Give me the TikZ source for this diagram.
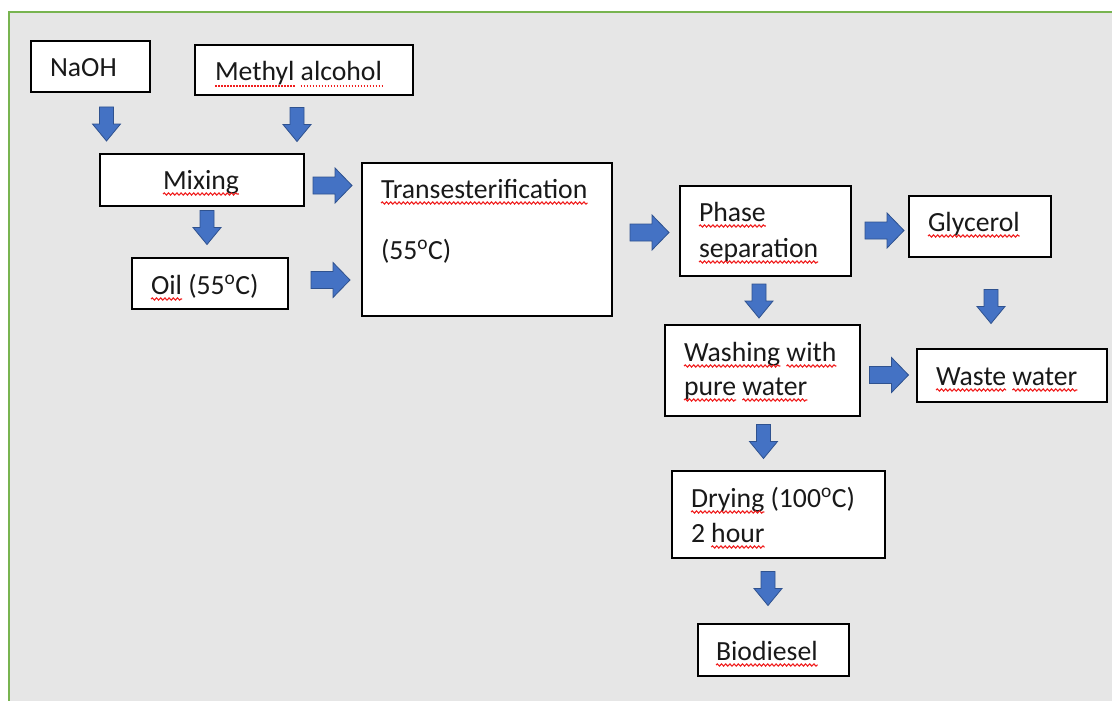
\documentclass[tikz,border=0pt]{standalone}
\usepackage{fontspec}
\setmainfont{Carlito}
\usetikzlibrary{fit,decorations.pathmorphing}
\definecolor{bggray}{RGB}{230,230,230}
\definecolor{frgreen}{RGB}{120,180,80}
\definecolor{abl}{RGB}{68,114,196}
\definecolor{abe}{RGB}{47,82,143}
\definecolor{spell}{RGB}{240,30,30}
\newcommand\wv[1]{\draw[wavy] ([yshift=-5pt]#1.base west) -- ([yshift=-5pt]#1.base east);}
\newcommand\dt[1]{\draw[dots] ([yshift=-5pt]#1.base west) -- ([yshift=-5pt]#1.base east);}
\begin{document}
\begin{tikzpicture}[x=1pt,y=-1pt,
 box/.style={draw=black, fill=white, line width=1.3pt, inner sep=0pt},
 txt/.style={anchor=base west, inner sep=0pt, outer sep=0pt, font=\fontsize{27.7}{33}\selectfont, text=black!90},
 wavy/.style={draw=spell, line width=1.1pt, decorate, decoration={snake, amplitude=1.1pt, segment length=4.2pt}},
 dots/.style={draw=spell, line width=1.1pt, dash pattern=on 1.5pt off 1.5pt},
 blk/.style={fill=abl, draw=abe, line width=0.8pt, line join=miter},
 pics/rarr/.style={code={\draw[blk] (-19.5,-8.5)--(2.5,-8.5)--(2.5,-17.5)--(19.5,0)--(2.5,17.5)--(2.5,8.5)--(-19.5,8.5)--cycle;}},
 pics/darr/.style={code={\draw[blk] (-7,-17)--(7,-17)--(7,0)--(14,0)--(0,17)--(-14,0)--(-7,0)--cycle;}}]
\useasboundingbox (0,0) rectangle (1112,701);
\fill[white] (0,0) rectangle (1112,701);
\fill[bggray] (9,13) rectangle (1112,701);
\draw[frgreen, line width=2pt] (8.5,701) -- (8.5,12.5) -- (1112,12.5);

% boxes
\node[box, fit={(31,41) (150,92)}] (naoh) {};
\node[box, fit={(195,45) (413,95)}] (meth) {};
\node[box, fit={(100,154) (304,206)}] (mix) {};
\node[box, fit={(132,258) (288,309)}] (oil) {};
\node[box, fit={(362,163) (612,316)}] (trans) {};
\node[box, fit={(680,186) (851,276)}] (phase) {};
\node[box, fit={(909,196) (1051,257)}] (glyc) {};
\node[box, fit={(665,325) (860,416)}] (wash) {};
\node[box, fit={(917,349) (1107,402)}] (waste) {};
\node[box, fit={(672,471) (885,558)}] (dry) {};
\node[box, fit={(698,624) (849,676)}] (bio) {};

% texts
\node[txt] (tnaoh) at (50,77) {NaOH};
\node[txt] (tmeth1) at (215,81) {Methyl};
\node[txt] (tmeth2) at ([xshift=6.2pt]tmeth1.base east) {alcohol};
\node[txt] (tmix) at (163,189) {Mixing};
\node[txt] (toil1) at (151,294) {Oil};
\node[txt] (toil2) at ([xshift=6.2pt]toil1.base east) {(55\textsuperscript{o}C)};
\node[txt] (ttrans1) at (381,198) {Transesterification};
\node[txt] (ttrans2) at (381,259) {(55\textsuperscript{o}C)};
\node[txt] (tph1) at (699,221) {Phase};
\node[txt] (tph2) at (699,257) {separation};
\node[txt] (tgly) at (928,231) {Glycerol};
\node[txt] (twa1) at (684,361) {Washing};
\node[txt] (twa2) at ([xshift=6.2pt]twa1.base east) {with};
\node[txt] (twa3) at (684,395) {pure};
\node[txt] (twa4) at ([xshift=6.2pt]twa3.base east) {water};
\node[txt] (tws1) at (936,385) {Waste};
\node[txt] (tws2) at ([xshift=6.2pt]tws1.base east) {water};
\node[txt] (tdr1) at (691,507) {Drying};
\node[txt] (tdr2) at ([xshift=6.2pt]tdr1.base east) {(100\textsuperscript{o}C)};
\node[txt] (tdr3) at (691,542) {2};
\node[txt] (tdr4) at ([xshift=6.2pt]tdr3.base east) {hour};
\node[txt] (tbio) at (716,660) {Biodiesel};

% spelling marks
\dt{tmeth1} \dt{tmeth2}
\wv{tmix} \wv{toil1} \wv{ttrans1} \wv{tph1} \wv{tph2} \wv{tgly}
\wv{twa1} \wv{twa2} \wv{twa3} \wv{twa4} \wv{tws1} \wv{tws2}
\wv{tdr1} \wv{tdr4} \wv{tbio}

% block arrows
\pic at (106.5,124) {darr};
\pic at (297,124.5) {darr};
\pic at (207,227.5) {darr};
\pic at (332.5,185.5) {rarr};
\pic at (330.5,280) {rarr};
\pic at (649.5,232.5) {rarr};
\pic at (884.5,230.5) {rarr};
\pic at (759,301) {darr};
\pic at (991,306.5) {darr};
\pic at (889,375) {rarr};
\pic at (763.5,441.5) {darr};
\pic at (768,588.5) {darr};
\end{tikzpicture}
\end{document}
